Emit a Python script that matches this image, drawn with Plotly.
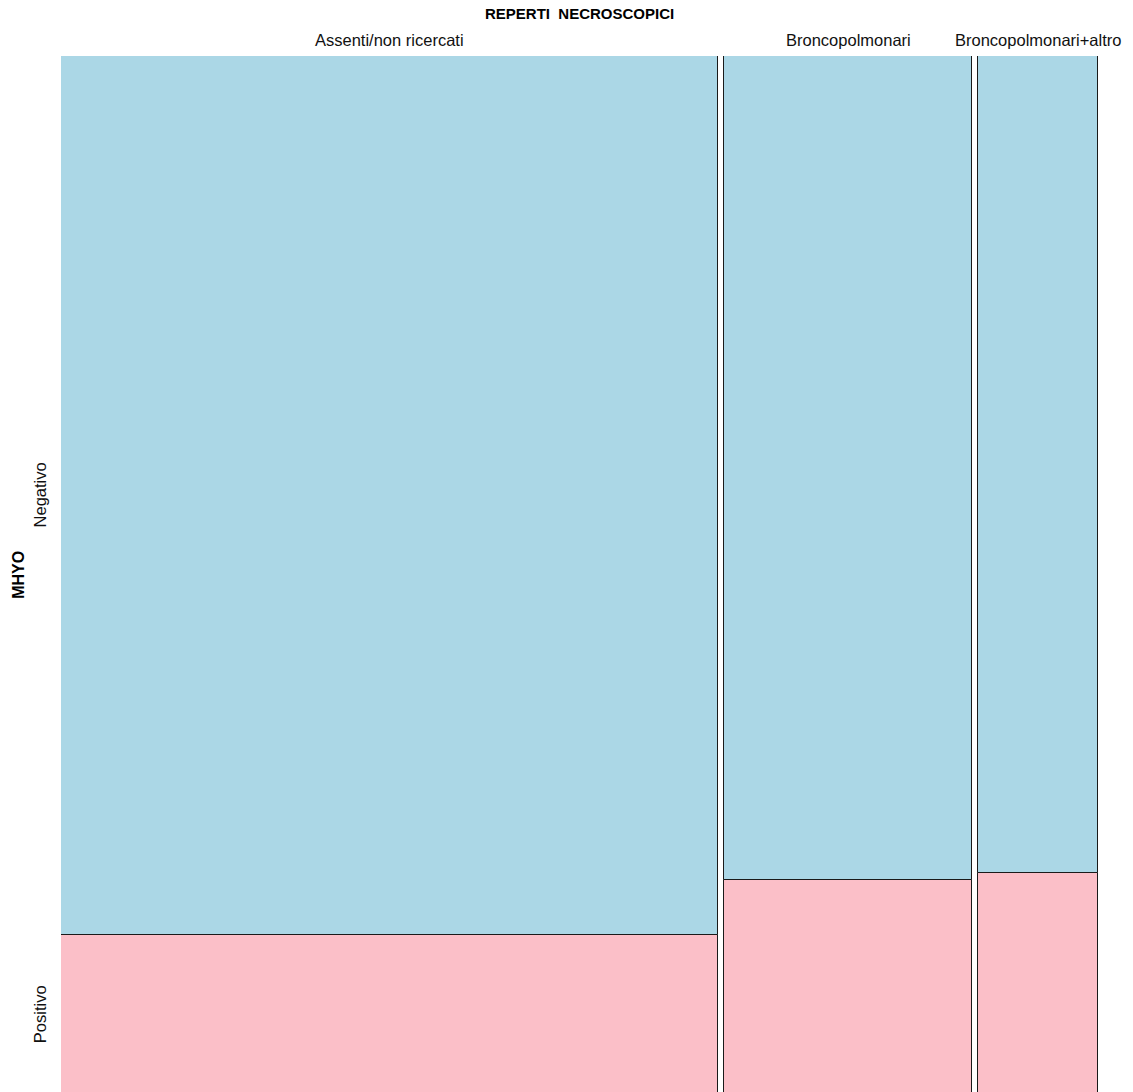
import plotly.graph_objects as go

# Frequencies: necroscopic findings (columns) by MHYO result (rows)
reperti = ["Assenti/non ricercati", "Broncopolmonari", "Broncopolmonari+altro"]
mhyo_levels = ["Negativo", "Positivo"]
negativo = [371, 131, 63]
positivo = [67, 34, 17]

totals = [n + p for n, p in zip(negativo, positivo)]
grand = sum(totals)
gap = grand * 0.0059  # spacing between columns, in count units

# Column extents along the x axis
lefts, centers = [], []
pos = 0.0
for t in totals:
    lefts.append(pos)
    centers.append(pos + t / 2)
    pos += t + gap
x_max = pos - gap

pos_frac = [p / t for p, t in zip(positivo, totals)]
neg_frac = [n / t for n, t in zip(negativo, totals)]

BLUE = "#ABD7E6"
PINK = "#FBBFC8"
EDGE = "#1a1a1a"

fig = go.Figure()
fig.add_trace(go.Bar(
    x=centers, y=pos_frac, base=[0] * len(totals), width=totals,
    marker=dict(color=PINK, line=dict(color=EDGE, width=1)),
    name=mhyo_levels[1], hoverinfo="skip",
))
fig.add_trace(go.Bar(
    x=centers, y=neg_frac, base=pos_frac, width=totals,
    marker=dict(color=BLUE, line=dict(color=EDGE, width=1)),
    name=mhyo_levels[0], hoverinfo="skip",
))

font = "Liberation Sans, Arial, Helvetica, sans-serif"
annotations = [
    dict(text="<b>REPERTI  NECROSCOPICI</b>", xref="paper", yref="paper",
         x=0.5, y=1, yshift=43, xanchor="center", yanchor="middle", showarrow=False,
         font=dict(size=15, color="black", family=font)),
]
for lab, c in zip(reperti, centers):
    annotations.append(dict(text=lab, x=c, xref="x", yref="paper", y=1, yshift=16,
                            xanchor="center", yanchor="middle", showarrow=False,
                            font=dict(size=16.5, color="#111111", family=font)))
# Row labels centred on the tiles of the first column
row_mid = [pos_frac[0] + neg_frac[0] / 2, pos_frac[0] / 2]
for lab, ym in zip(mhyo_levels, row_mid):
    annotations.append(dict(text=lab, xref="paper", x=0, xshift=-21, y=ym, yref="y",
                            xanchor="center", yanchor="middle",
                            textangle=-90, showarrow=False,
                            font=dict(size=16.5, color="#111111", family=font)))
annotations.append(dict(text="<b>MHYO</b>", xref="paper", x=0, xshift=-42, yref="y",
                        y=0.5, xanchor="center", yanchor="middle",
                        textangle=-90, showarrow=False,
                        font=dict(size=16, color="black", family=font)))

fig.update_layout(
    width=1133, height=1092,
    margin=dict(l=61, r=35, t=56, b=0),
    barmode="overlay", bargap=0, showlegend=False,
    plot_bgcolor="white", paper_bgcolor="white",
    xaxis=dict(range=[0, x_max], visible=False, fixedrange=True),
    # bottom edge of the tiles sits just below the visible area
    yaxis=dict(range=[0.0015, 1], visible=False, fixedrange=True),
    annotations=annotations,
)

fig.write_html("out.html")
